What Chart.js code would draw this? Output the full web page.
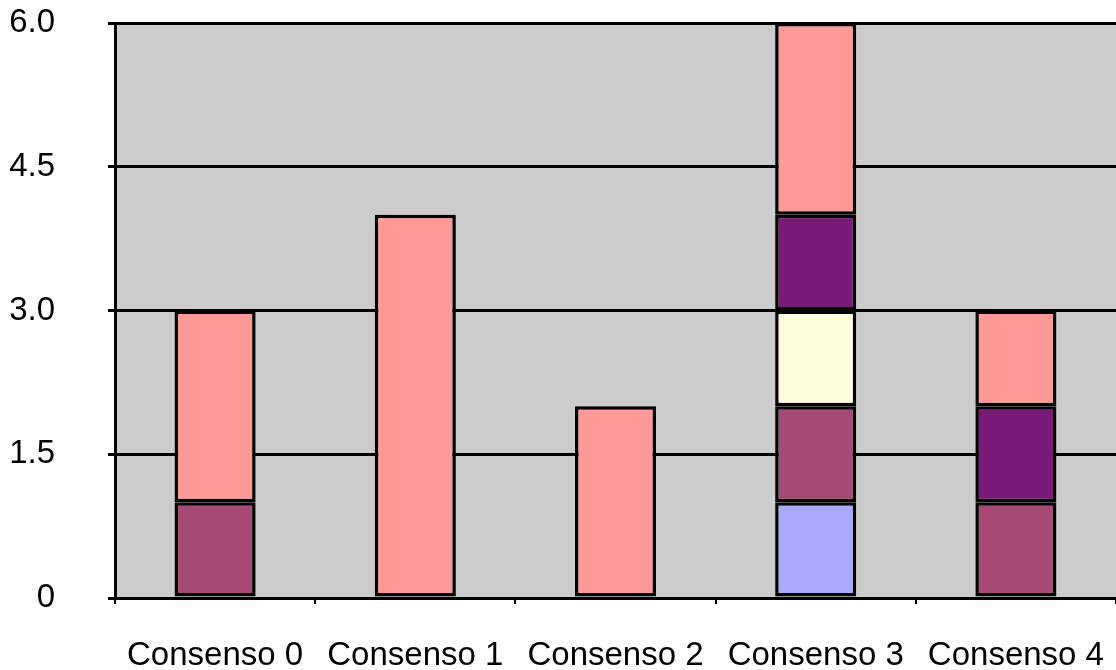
<!DOCTYPE html>
<html>
<head>
<meta charset="utf-8">
<script src="https://cdn.jsdelivr.net/npm/chart.js@4"></script>
<style>
  html, body { margin: 0; padding: 0; background: #ffffff; }
  #wrap { width: 1116px; height: 670px; position: relative; }
</style>
</head>
<body>
<div id="wrap"><canvas id="c" width="1116" height="670"></canvas></div>
<script>
// Categories and stacked series (bottom to top)
const categories = ['Consenso 0', 'Consenso 1', 'Consenso 2', 'Consenso 3', 'Consenso 4'];
const serieAzul    = [0, 0, 0, 1, 0];
const serieMalva   = [1, 0, 0, 1, 1];
const serieCrema   = [0, 0, 0, 1, 0];
const serieMorado  = [0, 0, 0, 1, 1];
const serieSalmon  = [2, 4, 2, 2, 1];
const yTicks = [0, 1.5, 3.0, 4.5, 6.0];
const yTickLabels = ['0', '1.5', '3.0', '4.5', '6.0'];

const colors = ['#AAAAFF', '#A64A75', '#FFFFDD', '#7A1A78', '#FF9A96'];
const seriesList = [serieAzul, serieMalva, serieCrema, serieMorado, serieSalmon];

const labelFont = { family: "'Liberation Sans', Arial, sans-serif", size: 33 };

// Gray plot-area fill
const plotBackground = {
  id: 'plotBackground',
  beforeDraw(chart) {
    const { ctx, chartArea: a } = chart;
    ctx.save();
    ctx.fillStyle = '#CCCCCC';
    ctx.fillRect(a.left, a.top, a.right - a.left, a.bottom - a.top);
    ctx.restore();
  }
};

new Chart(document.getElementById('c'), {
  type: 'bar',
  data: {
    labels: categories,
    datasets: seriesList.map((s, i) => ({
      data: s.map(v => v === 0 ? null : v),
      backgroundColor: colors[i],
      borderColor: '#000000',
      borderWidth: 3.5,
      borderSkipped: false,
      barPercentage: 0.405,
      categoryPercentage: 1.0
    }))
  },
  options: {
    responsive: false,
    animation: false,
    devicePixelRatio: 1,
    layout: { padding: { top: 23, right: -3, left: 0, bottom: 0 } },
    plugins: { legend: { display: false }, tooltip: { enabled: false } },
    scales: {
      x: {
        stacked: true,
        offset: true,
        grid: {
          offset: true,
          drawOnChartArea: false,
          drawTicks: true,
          tickLength: 6,
          color: '#000000',
          lineWidth: 2
        },
        border: { display: true, color: '#000000', width: 3 },
        ticks: {
          color: '#000000',
          padding: 32,
          maxRotation: 0,
          font: labelFont
        },
        afterFit(scale) {
          scale.height = 72;
          scale.paddingLeft = 0;
          scale.paddingRight = 0;
        }
      },
      y: {
        stacked: true,
        min: 0,
        max: 6,
        afterBuildTicks(scale) { scale.ticks = yTicks.map(v => ({ value: v })); },
        grid: {
          color: '#000000',
          lineWidth: 3,
          drawTicks: true,
          tickLength: 7
        },
        border: { display: true, color: '#000000', width: 3 },
        ticks: {
          color: '#000000',
          padding: 53,
          font: labelFont,
          callback: (v) => yTickLabels[yTicks.indexOf(v)]
        },
        afterFit(scale) {
          scale.width = 115;
          scale.paddingTop = 0;
          scale.paddingBottom = 0;
        }
      }
    }
  },
  plugins: [plotBackground]
});
</script>
</body>
</html>
